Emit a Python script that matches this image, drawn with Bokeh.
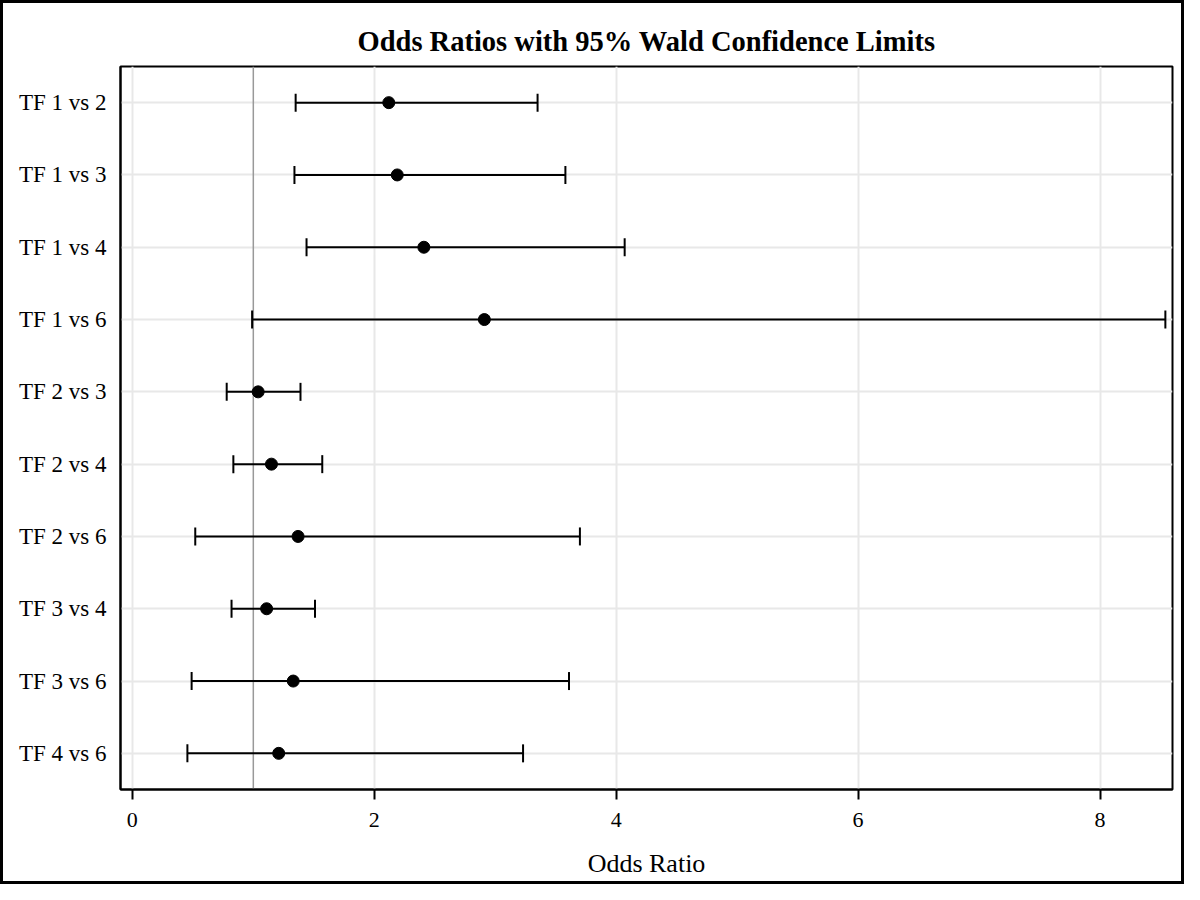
from bokeh.plotting import figure
from bokeh.models import (FactorRange, Range1d, Whisker, TeeHead, ColumnDataSource,
                          Span, FixedTicker)
from bokeh.embed import file_html
from bokeh.resources import INLINE

# ---- data ----
comparisons = ["TF 1 vs 2", "TF 1 vs 3", "TF 1 vs 4", "TF 1 vs 6", "TF 2 vs 3",
               "TF 2 vs 4", "TF 2 vs 6", "TF 3 vs 4", "TF 3 vs 6", "TF 4 vs 6"]
odds_ratio = [2.12, 2.19, 2.41, 2.91, 1.04, 1.15, 1.37, 1.11, 1.33, 1.21]
lower_cl = [1.35, 1.34, 1.44, 0.99, 0.78, 0.835, 0.52, 0.82, 0.49, 0.455]
upper_cl = [3.35, 3.58, 4.07, 8.54, 1.39, 1.57, 3.70, 1.51, 3.61, 3.23]
x_ticks = [0, 2, 4, 6, 8]
reference_value = 1
title_text = "Odds Ratios with 95% Wald Confidence Limits"
x_label = "Odds Ratio"

FONT = "Liberation Serif"

src = ColumnDataSource(dict(cat=comparisons, est=odds_ratio, lo=lower_cl, hi=upper_cl))

p = figure(width=1184, height=884,
           y_range=FactorRange(factors=comparisons[::-1]),
           x_range=Range1d(-0.098, 8.599),
           output_backend="svg", toolbar_location=None,
           title=title_text,
           min_border_left=117, min_border_right=15,
           min_border_top=63, min_border_bottom=98)
p.styles = {"border": "3px solid black", "box-sizing": "border-box"}

p.background_fill_color = "white"
p.border_fill_color = "white"
p.outline_line_color = "black"
p.outline_line_width = 2
p.outline_line_alpha = 1

p.title.text_font = FONT
p.title.text_font_size = "28.5px"
p.title.text_font_style = "bold"
p.title.text_color = "black"
p.title.align = "center"
p.title.standoff = 19

# grids
p.xgrid.grid_line_color = "#e8e8e8"
p.xgrid.grid_line_width = 2
p.ygrid.grid_line_color = "#e8e8e8"
p.ygrid.grid_line_width = 2

# x axis
p.xaxis.ticker = FixedTicker(ticks=x_ticks)
p.xaxis.axis_label = x_label
p.xaxis.axis_label_text_font = FONT
p.xaxis.axis_label_text_font_size = "26px"
p.xaxis.axis_label_text_font_style = "normal"
p.xaxis.axis_label_text_color = "black"
p.xaxis.axis_label_standoff = 19
p.xaxis.major_label_text_font = FONT
p.xaxis.major_label_text_font_size = "22px"
p.xaxis.major_label_text_color = "black"
p.xaxis.major_label_standoff = 13
p.xaxis.major_tick_out = 10
p.xaxis.major_tick_in = 0
p.xaxis.major_tick_line_width = 2
p.xaxis.major_tick_line_color = "black"
p.xaxis.minor_tick_line_color = None
p.xaxis.axis_line_width = 2
p.xaxis.axis_line_color = "black"

# y axis
p.yaxis.major_label_text_font = FONT
p.yaxis.major_label_text_font_size = "23px"
p.yaxis.major_label_text_color = "black"
p.yaxis.major_label_standoff = 8
p.yaxis.major_tick_line_color = None
p.yaxis.minor_tick_line_color = None
p.yaxis.axis_line_width = 2
p.yaxis.axis_line_color = "black"

# reference line at OR = 1
ref = Span(location=reference_value, dimension="height", line_color="#999999",
           line_width=1.5, level="underlay")
p.add_layout(ref)

# confidence limits
w = Whisker(source=src, base="cat", lower="lo", upper="hi", dimension="width",
            line_color="black", line_width=2,
            upper_head=TeeHead(size=18, line_color="black", line_width=2),
            lower_head=TeeHead(size=18, line_color="black", line_width=2))
p.add_layout(w)

# point estimates
p.scatter(x="est", y="cat", source=src, size=12, fill_color="black",
          line_color="black")

open("out.html", "w").write(file_html(p, INLINE))
